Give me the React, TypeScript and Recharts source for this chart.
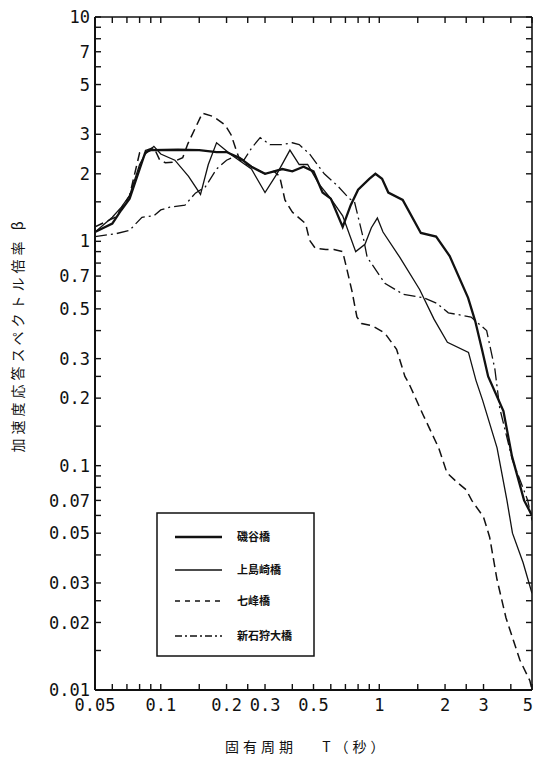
import React from "react";
import { LineChart, Line, XAxis, YAxis, Legend } from "recharts";

// 固有周期 T (s) と 加速度応答スペクトル倍率 β
const seriesNames = ["磯谷橋", "上島崎橋", "七峰橋", "新石狩大橋"];

const isoyaT = [
  0.05, 0.06, 0.066, 0.072, 0.08, 0.085, 0.09, 0.12, 0.15, 0.18, 0.2, 0.23, 0.26, 0.3, 0.33,
  0.36, 0.4, 0.45, 0.5, 0.55, 0.6, 0.68, 0.74, 0.8, 0.9, 0.96, 1.03, 1.1, 1.28, 1.55, 1.82,
  2.1, 2.55, 2.75, 2.95, 3.15, 3.7, 4.05, 4.6, 5.0,
];
const isoyaBeta = [
  1.1, 1.2, 1.38, 1.55, 2.1, 2.5, 2.55, 2.56, 2.55, 2.5, 2.5, 2.35, 2.15, 2.0, 2.05,
  2.1, 2.05, 2.15, 2.05, 1.65, 1.55, 1.16, 1.45, 1.7, 1.9, 2.0, 1.9, 1.65, 1.53, 1.09, 1.05,
  0.86, 0.56, 0.44, 0.33, 0.25, 0.175, 0.11, 0.07, 0.06,
];

const kamiT = [
  0.05, 0.06, 0.066, 0.072, 0.08, 0.085, 0.093, 0.1, 0.116, 0.134, 0.152, 0.165, 0.18, 0.21,
  0.26, 0.3, 0.34, 0.39, 0.43, 0.47, 0.53, 0.6, 0.68, 0.78, 0.86, 0.92, 0.98, 1.04, 1.24,
  1.53, 1.78, 2.05, 2.56, 2.77, 2.97, 3.46, 3.84, 4.07, 4.55, 5.0,
];
const kamiBeta = [
  1.1, 1.28, 1.42, 1.6, 2.2, 2.45, 2.65, 2.45, 2.3, 1.95, 1.62, 2.2, 2.75, 2.43,
  2.1, 1.65, 2.0, 2.55, 2.2, 2.2, 1.8, 1.55, 1.3, 0.9, 0.97, 1.15, 1.27, 1.1, 0.85,
  0.61, 0.45, 0.355, 0.32, 0.24, 0.196, 0.12, 0.07, 0.05, 0.037, 0.027,
];

const nanamineT = [
  0.05, 0.062, 0.066, 0.072, 0.08, 0.086, 0.093, 0.099, 0.105, 0.113, 0.126, 0.133, 0.155,
  0.174, 0.197, 0.21, 0.22, 0.23, 0.26, 0.3, 0.33, 0.35, 0.37, 0.4, 0.46, 0.48, 0.51, 0.57,
  0.62, 0.68, 0.7, 0.75, 0.79, 0.83, 0.93, 1.06, 1.2, 1.31, 1.36, 1.58, 1.87, 2.04, 2.28,
  2.5, 2.65, 3.0, 3.2, 3.46, 3.8, 4.4, 4.89, 5.0,
];
const nanamineBeta = [
  1.16, 1.28, 1.4, 1.6, 2.48, 2.55, 2.62, 2.3, 2.24, 2.25, 2.36, 2.72, 3.73,
  3.6, 3.3, 2.98, 2.6, 2.3, 2.15, 2.0, 2.05, 1.95, 1.53, 1.35, 1.2, 1.01, 0.93, 0.92,
  0.92, 0.9, 0.8, 0.6, 0.46, 0.43, 0.42, 0.39, 0.33, 0.25, 0.235, 0.17, 0.12, 0.093, 0.084,
  0.078, 0.07, 0.059, 0.048, 0.031, 0.021, 0.0136, 0.011, 0.01,
];

const shinT = [
  0.05, 0.062, 0.072, 0.082, 0.093, 0.1, 0.11, 0.129, 0.144, 0.16, 0.18, 0.2, 0.22, 0.24,
  0.26, 0.285, 0.316, 0.36, 0.4, 0.43, 0.48, 0.56, 0.64, 0.73, 0.77, 0.85, 0.88, 1.06, 1.29,
  1.6, 1.83, 2.07, 2.63, 3.1, 3.38, 3.56, 4.07, 4.78, 5.0,
];
const shinBeta = [
  1.05, 1.08, 1.12, 1.28, 1.3, 1.38, 1.42, 1.45, 1.64, 1.75, 2.1, 2.3, 2.4, 2.3,
  2.6, 2.9, 2.7, 2.7, 2.75, 2.7, 2.45, 2.0, 1.78, 1.55, 1.5, 1.01, 0.85, 0.65, 0.58,
  0.56, 0.53, 0.48, 0.46, 0.4, 0.27, 0.18, 0.106, 0.07, 0.057,
];

const xMajorTicks = [0.05, 0.1, 0.2, 0.3, 0.5, 1, 2, 3, 5];
const xMinorTicks = [0.06, 0.07, 0.08, 0.09, 0.15, 0.25, 0.4, 0.6, 0.7, 0.8, 0.9, 1.5, 2.5, 4];
const yMajorTicks = [0.01, 0.02, 0.03, 0.05, 0.07, 0.1, 0.2, 0.3, 0.5, 0.7, 1, 2, 3, 5, 7, 10];
const yMinorTicks = [
  0.015, 0.025, 0.04, 0.06, 0.08, 0.09, 0.15, 0.25, 0.4, 0.6, 0.8, 0.9, 1.5, 2.5, 4, 6, 8, 9,
];

const toPoints = (t: number[], b: number[]) => t.map((period, i) => ({ period, beta: b[i] }));

const xTicks = [...xMajorTicks, ...xMinorTicks].sort((a, b) => a - b);
const yTicks = [...yMajorTicks, ...yMinorTicks].sort((a, b) => a - b);

const INK = "#111";
const MONO = "'DejaVu Sans Mono', monospace";
const JP = "'Noto Sans CJK JP', sans-serif";
const TICK = 6;

const lineStyles = [
  { width: 2.3, dash: undefined, legendDash: undefined },
  { width: 1.3, dash: undefined, legendDash: undefined },
  { width: 1.5, dash: "9 5", legendDash: "5 5" },
  { width: 1.3, dash: "12 4 2 4", legendDash: "7 3 2 3" },
];

const BottomTick = (props: any) => {
  const { x, y, payload } = props;
  const isLast = payload.value === xMajorTicks[xMajorTicks.length - 1];
  return (
    <g>
      <line x1={x} y1={y} x2={x} y2={y - TICK} stroke={INK} strokeWidth={1.4} />
      {xMajorTicks.includes(payload.value) && (
        <text
          x={isLast ? x + 1 : x}
          y={y + 21}
          textAnchor={isLast ? "end" : "middle"}
          fontFamily={MONO}
          fontSize={17}
          fill={INK}
        >
          {String(payload.value)}
        </text>
      )}
    </g>
  );
};

const TopTick = (props: any) => {
  const { x, y } = props;
  return <line x1={x} y1={y} x2={x} y2={y + TICK} stroke={INK} strokeWidth={1.4} />;
};

const LeftTick = (props: any) => {
  const { x, y, payload } = props;
  return (
    <g>
      <line x1={x} y1={y} x2={x + TICK} y2={y} stroke={INK} strokeWidth={1.4} />
      {yMajorTicks.includes(payload.value) && (
        <text x={x - 5} y={y} dy="0.36em" textAnchor="end" fontFamily={MONO} fontSize={17} fill={INK}>
          {String(payload.value)}
        </text>
      )}
    </g>
  );
};

const RightTick = (props: any) => {
  const { x, y } = props;
  return <line x1={x} y1={y} x2={x - TICK} y2={y} stroke={INK} strokeWidth={1.4} />;
};

const YTitle = () => (
  <text
    transform="translate(23,335) rotate(-90)"
    textAnchor="middle"
    fontFamily={JP}
    fontSize={14}
    letterSpacing={4}
    fill={INK}
  >
    加速度応答スペクトル倍率 β
  </text>
);

const XTitle = () => (
  <text x={225} y={752} fontFamily={JP} fontSize={14} letterSpacing={4} fill={INK}>
    固有周期　 T（秒）
  </text>
);

const rowY = [25, 58, 89, 124];

const LegendBox = () => (
  <svg width={160} height={146}>
    <rect x={1} y={1} width={157} height={143} fill="#fff" stroke={INK} strokeWidth={1.5} />
    {seriesNames.map((name, i) => (
      <g key={name}>
        <line
          x1={19}
          x2={66}
          y1={rowY[i]}
          y2={rowY[i]}
          stroke={INK}
          strokeWidth={lineStyles[i].width}
          strokeDasharray={lineStyles[i].legendDash}
        />
        <text x={81} y={rowY[i] + 4} fontFamily={JP} fontSize={11} fontWeight="bold" fill={INK}>
          {name}
        </text>
      </g>
    ))}
  </svg>
);

const seriesData = [
  toPoints(isoyaT, isoyaBeta),
  toPoints(kamiT, kamiBeta),
  toPoints(nanamineT, nanamineBeta),
  toPoints(shinT, shinBeta),
];

export default function App() {
  return (
    <div style={{ position: "absolute", left: 0, top: 0, width: 534, height: 758, background: "#fff" }}>
      <LineChart width={534} height={758} margin={{ top: 0, right: 0, bottom: 0, left: 0 }}>
        <XAxis
          dataKey="period"
          type="number"
          scale="log"
          domain={[0.05, 5]}
          allowDataOverflow
          ticks={xTicks}
          interval={0}
          height={68}
          tickSize={0}
          tickMargin={0}
          tick={BottomTick}
          axisLine={{ stroke: INK, strokeWidth: 2 }}
          label={<XTitle />}
        />
        <XAxis
          xAxisId="top"
          orientation="top"
          dataKey="period"
          type="number"
          scale="log"
          domain={[0.05, 5]}
          allowDataOverflow
          ticks={xTicks}
          interval={0}
          height={17}
          tickSize={0}
          tickMargin={0}
          tick={TopTick}
          axisLine={{ stroke: INK, strokeWidth: 1.6 }}
        />
        <YAxis
          type="number"
          scale="log"
          domain={[0.01, 10]}
          allowDataOverflow
          ticks={yTicks}
          interval={0}
          width={95}
          tickSize={0}
          tickMargin={0}
          tick={LeftTick}
          axisLine={{ stroke: INK, strokeWidth: 2 }}
          label={<YTitle />}
        />
        <YAxis
          yAxisId="right"
          orientation="right"
          type="number"
          scale="log"
          domain={[0.01, 10]}
          allowDataOverflow
          ticks={yTicks}
          interval={0}
          width={2}
          tickSize={0}
          tickMargin={0}
          tick={RightTick}
          axisLine={{ stroke: INK, strokeWidth: 1.6 }}
        />
        <Legend
          layout="horizontal"
          verticalAlign="middle"
          align="center"
          content={<LegendBox />}
          wrapperStyle={{ position: "absolute", left: 156, top: 512, width: 160, height: 146 }}
        />
        {seriesData.map((data, i) => (
          <Line
            key={seriesNames[i]}
            name={seriesNames[i]}
            data={data}
            dataKey="beta"
            type="linear"
            stroke={INK}
            strokeWidth={lineStyles[i].width}
            strokeDasharray={lineStyles[i].dash}
            dot={false}
            isAnimationActive={false}
          />
        ))}
      </LineChart>
    </div>
  );
}
